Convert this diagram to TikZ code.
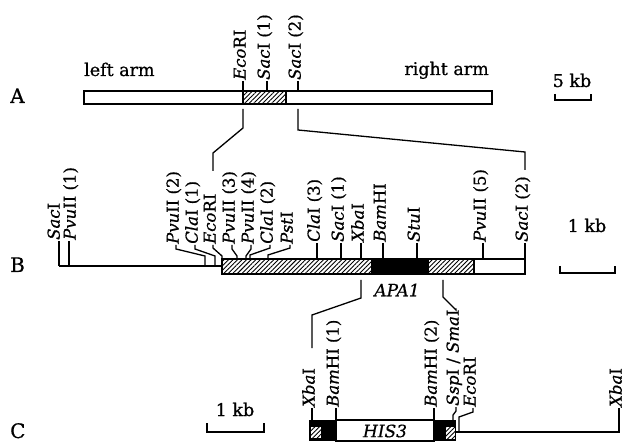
\documentclass[tikz,border=0pt]{standalone}
\usepackage{fontspec}
\setmainfont{DejaVu Serif}[FakeBold=0.7]
\usetikzlibrary{patterns.meta}
\begin{document}
\begin{tikzpicture}[x=1pt,y=1pt,
  enz/.style={rotate=90, anchor=west, inner sep=1pt, text height=0.74em, text depth=0.2em, font=\fontsize{16.5}{17}\selectfont},
  rowlbl/.style={font=\fontsize{20}{21}\selectfont, anchor=base west, inner sep=0pt},
  lbl/.style={font=\fontsize{17.5}{18}\selectfont, anchor=base, inner sep=0pt},
  gene/.style={font=\fontsize{17}{18}\selectfont\itshape, inner sep=0pt},
  ln/.style={line width=1.3pt},
  hatch/.style={pattern={Lines[angle=45,distance=3.2pt,line width=0.9pt]}},
]
\useasboundingbox[fill=white] (0,0) rectangle (626,-443);

% ---------------- A ----------------
\node[rowlbl] (rowA) at (10,-103) {A};
\node[lbl, anchor=base west] (leftarm) at (84,-76) {left arm};
\node[lbl, anchor=base east] (rightarm) at (489,-75) {right arm};
\path[hatch] (243,-91) rectangle (286,-104);
\draw[ln] (84,-91) rectangle (492,-104);
\draw[ln] (243,-91) -- (243,-104) (286,-91) -- (286,-104);

\node[enz] (aEco) at (243,-81) {\textit{Eco}RI};
\node[enz] (aSac1) at (267,-81) {\textit{Sac}I (1)};
\node[enz] (aSac2) at (298,-81) {\textit{Sac}I (2)};
\draw[ln] (243,-91) -- (aEco.west);
\draw[ln] (267,-91) -- (aSac1.west);
\draw[ln] (298,-91) -- (aSac2.west);

% scale 5 kb
\node[lbl] (kb5) at (572,-87) {5 kb};
\draw[ln] (555,-94) -- (555,-100) -- (591,-100) -- (591,-94);

% connectors A -> B
\coordinate (ab1) at (213,-171);
\coordinate (ab2) at (525,-170);
\draw[ln] (243,-109) -- (243,-128) -- (213,-153) -- (ab1);
\draw[ln] (298,-109) -- (298,-130) -- (525,-152) -- (ab2);

% ---------------- B ----------------
\node[rowlbl] (rowB) at (10,-272) {B};
\draw[ln] (59,-266) -- (222,-266);
\path[hatch] (222,-259) rectangle (371,-274);
\fill (371,-259) rectangle (429,-274);
\path[hatch] (429,-259) rectangle (474,-274);
\draw[ln] (222,-259) rectangle (525,-274);
\draw[ln] (474,-259) -- (474,-274);

% straight-tick labels on the left
\node[enz] (bSac) at (57,-241) {\textit{Sac}I};
\node[enz] (bPvu1) at (73,-241) {\textit{Pvu}II (1)};
\draw[ln] (59,-266) -- (59,-241);
\draw[ln] (69,-266) -- (69,-241);

% clustered labels with bent leaders
\node[enz] (bPvu2) at (176,-245) {\textit{Pvu}II (2)};
\node[enz] (bCla1) at (195,-245) {\textit{Cla}I (1)};
\node[enz] (bEco) at (213,-245) {\textit{Eco}RI};
\node[enz] (bPvu3) at (232,-245) {\textit{Pvu}II (3)};
\node[enz] (bPvu4) at (251,-245) {\textit{Pvu}II (4)};
\node[enz] (bCla2) at (270,-245) {\textit{Cla}I (2)};
\node[enz] (bPst) at (290,-245) {\textit{Pst}I};
\draw[ln] (bPvu2.west) -- ++(0,-4) -- (205,-256) -- (205,-266);
\draw[ln] (bCla1.west) -- ++(0,-4) -- (215,-256) -- (215,-266);
\draw[ln] (bEco.west) -- ++(0,-3) -- (222,-256) -- (222,-259);
\draw[ln] (bPvu3.west) -- ++(0,-4) -- (237,-256) -- (237,-259);
\draw[ln] (bPvu4.west) -- ++(0,-4) -- (246,-256) -- (246,-259);
\draw[ln] (bCla2.west) -- ++(0,-3) -- (250,-255) -- (250,-259);
\draw[ln] (bPst.west) -- ++(0,-3) -- (268,-255) -- (268,-259);

% straight ticks on the bar
\node[enz] (bCla3) at (317,-243) {\textit{Cla}I (3)};
\node[enz] (bSac1) at (341,-243) {\textit{Sac}I (1)};
\node[enz] (bXba) at (361,-243) {\textit{Xba}I};
\node[enz] (bBam) at (383,-243) {\textit{Bam}HI};
\node[enz] (bStu) at (417,-243) {\textit{Stu}I};
\node[enz] (bPvu5) at (483,-243) {\textit{Pvu}II (5)};
\node[enz] (bSac2) at (525,-243) {\textit{Sac}I (2)};
\foreach \n/\x in {bCla3/317,bSac1/341,bXba/361,bBam/383,bStu/417,bPvu5/483,bSac2/525}
  \draw[ln] (\x,-259) -- (\n.west);

% scale 1 kb (B)
\node[lbl] (kbB) at (587,-232) {1 kb};
\draw[ln] (560,-266) -- (560,-273) -- (615,-273) -- (615,-266);

\node[gene] (apa) at (397,-290) {APA1};

% ---------------- C ----------------
\node[rowlbl] (rowC) at (10,-438) {C};
\node[lbl] (kbC) at (235,-416) {1 kb};
\draw[ln] (207,-423) -- (207,-432) -- (264,-432) -- (264,-423);

% left black box with hatched inset
\fill (309,-420) rectangle (336,-441);
\fill[white] (311,-427) rectangle (321,-438);
\path[hatch] (311,-427) rectangle (321,-438);
% HIS3 box
\draw[ln] (336,-420) rectangle (434,-441);
\node[gene] (his) at (385,-431) {HIS3};
% right black box with hatched inset
\fill (434,-420) rectangle (456,-441);
\fill[white] (446,-427) rectangle (455,-439);
\path[hatch] (446,-427) rectangle (455,-439);
% line to far XbaI
\draw[ln] (456,-432) -- (620,-432);

\node[enz] (cXba1) at (312,-408) {\textit{Xba}I};
\node[enz] (cBam1) at (336,-408) {\textit{Bam}HI (1)};
\node[enz] (cBam2) at (434,-408) {\textit{Bam}HI (2)};
\node[enz] (cSsp) at (456,-407) {\textit{Ssp}I / \textit{Sma}I};
\node[enz] (cEco) at (473,-408) {\textit{Eco}RI};
\node[enz] (cXba2) at (619,-408) {\textit{Xba}I};
\draw[ln] (312,-420) -- (cXba1.west);
\draw[ln] (336,-420) -- (cBam1.west);
\draw[ln] (434,-420) -- (cBam2.west);
\draw[ln] (453,-420) -- (453,-415) -- (456,-411) -- (cSsp.west);
\draw[ln] (459,-432) -- (459,-417) -- (473,-412) -- (cEco.west);
\draw[ln] (619,-432) -- (cXba2.west);

% connectors B -> C
\coordinate (bc1) at (312,-348);
\draw[ln] (361,-280) -- (361,-298) -- (312,-315) -- (bc1);
\draw[ln] (443,-280) -- (443,-297) -- (456,-310) -- (cSsp.east);
\end{tikzpicture}
\end{document}
